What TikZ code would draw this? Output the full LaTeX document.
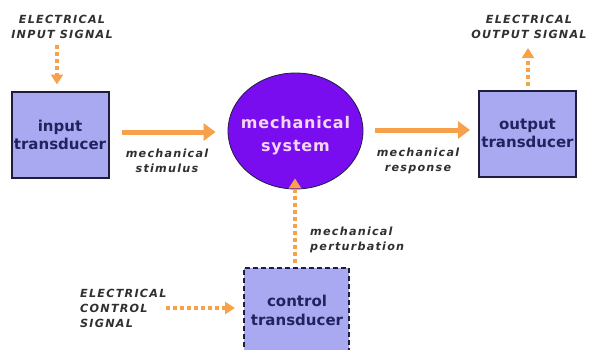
\documentclass[tikz,border=0pt]{standalone}
\usepackage{fontspec}
\setmainfont{DejaVu Sans}
\newfontfamily\lblfont[LetterSpace=11]{DejaVu Sans}
\newfontfamily\sysfont[LetterSpace=5]{DejaVu Sans}
\usetikzlibrary{arrows.meta,shapes.geometric}
\definecolor{boxfill}{HTML}{A9A9F2}
\definecolor{boxline}{HTML}{1E1E3C}
\definecolor{boxtext}{HTML}{22225E}
\definecolor{sysfill}{HTML}{7A0CF0}
\definecolor{systext}{HTML}{F2D6F4}
\definecolor{arrowor}{HTML}{F7A24A}
\definecolor{lblgray}{HTML}{303030}
\tikzset{
  tbox/.style={draw=boxline, line width=2pt, fill=boxfill, minimum width=97pt, minimum height=86pt,
    align=center, font=\fontsize{15}{18}\selectfont\bfseries, text=boxtext, inner sep=0pt},
  lbl/.style={font=\lblfont\fontsize{11.2}{15}\selectfont\bfseries\itshape, text=lblgray, inner sep=0pt},
  solidarrow/.style={draw=arrowor, line width=5pt, -{Triangle[length=12pt,width=17pt]}},
  dotarrow/.style={draw=arrowor, line width=4pt, dash pattern=on 4pt off 3pt, -{Triangle[length=10pt,width=12pt]}},
}
\begin{document}
\begin{tikzpicture}[x=1pt,y=-1pt]
\useasboundingbox (0,0) rectangle (592,349);
\clip (0,0) rectangle (592,349);
% nodes
\node[tbox] (in) at (60,134.5) {input\\transducer};
\node[tbox] (out) at (527.5,133.5) {output\\transducer};
\node[tbox, dashed, dash pattern=on 5pt off 3pt, minimum width=105pt, minimum height=100pt, anchor=north] (ctl) at (296.5,267) {};
\node[font=\fontsize{15}{19}\selectfont\bfseries, text=boxtext, align=center] (ctltxt) at (297,310) {control\\transducer};
\node[ellipse, draw=boxline, line width=0.8pt, fill=sysfill, minimum width=135pt, minimum height=116pt, inner sep=0pt] (sys) at (295.5,131) {};
\node[text=systext, font=\sysfont\fontsize{16}{23}\selectfont\bfseries, align=center] (systxt) at ([yshift=-5pt]sys.center) {mechanical\\system};
% labels
\node[lbl, align=center] (ein) at (62,27) {ELECTRICAL\\INPUT SIGNAL};
\node[lbl, align=center] (eout) at (529,27) {ELECTRICAL\\OUTPUT SIGNAL};
\node[lbl, align=left, anchor=west] (ectl) at (80,308) {ELECTRICAL\\CONTROL\\SIGNAL};
\node[lbl, align=center] (stim) at (167,161) {mechanical\\stimulus};
\node[lbl, align=center] (resp) at (418,161) {mechanical\\response};
\node[lbl, align=left, anchor=west] (pert) at (310,240) {mechanical\\perturbation};
% connectors
\coordinate (inTop) at (57,45);
\coordinate (outTop) at (528,48);
\coordinate (ctlStart) at (166,308);
\draw[solidarrow] ([xshift=12pt]in.east |- 0,132) -- ([xshift=-12pt]sys.west |- 0,132);
\draw[solidarrow] ([xshift=12pt]sys.east |- 0,130) -- ([xshift=-8pt]out.west |- 0,130);
\draw[dotarrow] (inTop) -- ([yshift=6pt]in.north -| inTop);
\draw[dotarrow] ([yshift=4pt]out.north -| outTop) -- (outTop);
\draw[dotarrow] ([yshift=4pt]ctl.north -| 295,0) -- ([yshift=11pt]sys.south -| 295,0);
\draw[dotarrow] (ctlStart) -- ([xshift=-8pt]ctl.west |- ctlStart);
\end{tikzpicture}
\end{document}
